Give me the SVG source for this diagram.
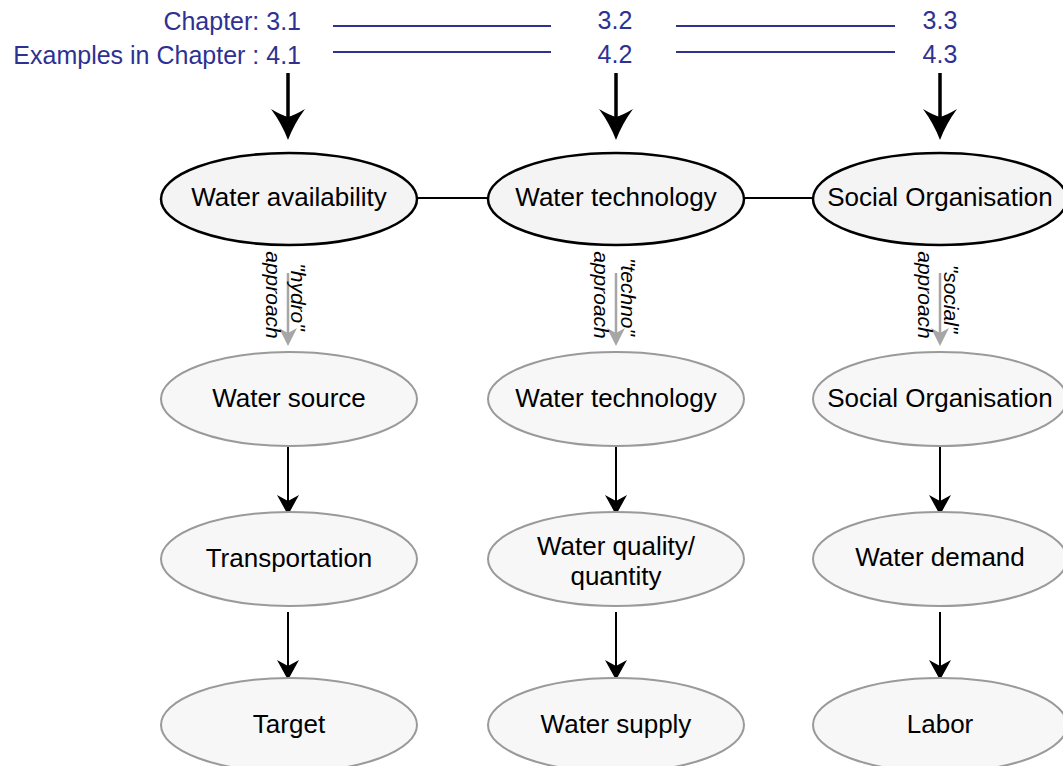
<svg xmlns="http://www.w3.org/2000/svg" width="1063" height="766" viewBox="0 0 1063 766">
<style>
.blue{font-family:"Liberation Sans",Arial,sans-serif;font-size:25px;fill:#2e3192}
.bline{stroke:#2e3192;stroke-width:2}
.lbl{font-family:"Liberation Sans",Arial,sans-serif;font-size:26px;fill:#000;text-anchor:middle}
.main{fill:#f4f4f4;stroke:#000;stroke-width:2.5}
.sub{fill:#f7f7f7;stroke:#9a9a9a;stroke-width:2}
.conn{stroke:#000;stroke-width:2;fill:none}
.big{stroke:#000;stroke-width:3.5;fill:none}
.gray{stroke:#a6a6a6;stroke-width:2.5;fill:none}
.appr{font-family:"Liberation Sans",Arial,sans-serif;font-size:21px;font-style:italic;fill:#000;text-anchor:middle}
</style>
<defs>
<marker id="bigHead" markerUnits="userSpaceOnUse" viewBox="-30 -20 40 40" refX="0" refY="0" markerWidth="40" markerHeight="40" orient="auto">
<path d="M8,0 Q-8,-6 -23,-17 Q-17,-7 -15,0 Q-17,7 -23,17 Q-8,6 8,0 Z" fill="#000"/>
</marker>
<marker id="smallHead" markerUnits="userSpaceOnUse" viewBox="-20 -14 30 28" refX="0" refY="0" markerWidth="30" markerHeight="28" orient="auto">
<path d="M6,0 L-14,-11 L-8,0 L-14,11 Z" fill="#000"/>
</marker>
<marker id="grayHead" markerUnits="userSpaceOnUse" viewBox="-18 -12 26 24" refX="0" refY="0" markerWidth="26" markerHeight="24" orient="auto">
<path d="M5,0 L-13,-9 L-8,0 L-13,9 Z" fill="#a6a6a6"/>
</marker>
</defs>

<g id="chapter-labels">
<text class="blue" x="301" y="30" text-anchor="end">Chapter: 3.1</text>
<text class="blue" x="301" y="64" text-anchor="end">Examples in Chapter : 4.1</text>
<text class="blue" x="615" y="29" text-anchor="middle">3.2</text>
<text class="blue" x="615" y="63" text-anchor="middle">4.2</text>
<text class="blue" x="940" y="29" text-anchor="middle">3.3</text>
<text class="blue" x="940" y="63" text-anchor="middle">4.3</text>
<line class="bline" x1="333" y1="26" x2="551" y2="26"/>
<line class="bline" x1="333" y1="52" x2="551" y2="52"/>
<line class="bline" x1="676" y1="26" x2="895" y2="26"/>
<line class="bline" x1="676" y1="52" x2="895" y2="52"/>
</g>

<g id="connectors">
<line class="big" x1="288" y1="73" x2="288" y2="132" marker-end="url(#bigHead)"/>
<line class="big" x1="616" y1="73" x2="616" y2="132" marker-end="url(#bigHead)"/>
<line class="big" x1="940" y1="73" x2="940" y2="132" marker-end="url(#bigHead)"/>
<line class="conn" x1="417" y1="198" x2="488" y2="198"/>
<line class="conn" x1="744" y1="198" x2="813" y2="198"/>
<line class="gray" x1="288" y1="273" x2="288" y2="341" marker-end="url(#grayHead)"/>
<line class="gray" x1="616" y1="273" x2="616" y2="341" marker-end="url(#grayHead)"/>
<line class="gray" x1="940" y1="273" x2="940" y2="341" marker-end="url(#grayHead)"/>
<line class="conn" x1="288" y1="447" x2="288" y2="509" marker-end="url(#smallHead)"/>
<line class="conn" x1="616" y1="447" x2="616" y2="509" marker-end="url(#smallHead)"/>
<line class="conn" x1="940" y1="447" x2="940" y2="509" marker-end="url(#smallHead)"/>
<line class="conn" x1="288" y1="612" x2="288" y2="674" marker-end="url(#smallHead)"/>
<line class="conn" x1="616" y1="612" x2="616" y2="674" marker-end="url(#smallHead)"/>
<line class="conn" x1="940" y1="612" x2="940" y2="674" marker-end="url(#smallHead)"/>
<text class="appr" transform="translate(266,295) rotate(90)">approach</text>
<text class="appr" transform="translate(291,297) rotate(90)">"hydro"</text>
<text class="appr" transform="translate(594,295) rotate(90)">approach</text>
<text class="appr" transform="translate(621,297) rotate(90)">"techno"</text>
<text class="appr" transform="translate(918,295) rotate(90)">approach</text>
<text class="appr" transform="translate(944,299) rotate(90)">"social"</text>
</g>

<g id="water-availability"><ellipse class="main" cx="289" cy="199" rx="128" ry="46"/><text class="lbl" x="289" y="206">Water availability</text></g>
<g id="water-technology-top"><ellipse class="main" cx="616" cy="199" rx="128" ry="46"/><text class="lbl" x="616" y="206">Water technology</text></g>
<g id="social-organisation-top"><ellipse class="main" cx="940" cy="199" rx="127" ry="46"/><text class="lbl" x="940" y="206">Social Organisation</text></g>

<g id="water-source"><ellipse class="sub" cx="289" cy="399" rx="128" ry="47"/><text class="lbl" x="289" y="407">Water source</text></g>
<g id="water-technology"><ellipse class="sub" cx="616" cy="399" rx="128" ry="47"/><text class="lbl" x="616" y="407">Water technology</text></g>
<g id="social-organisation"><ellipse class="sub" cx="940" cy="399" rx="127" ry="47"/><text class="lbl" x="940" y="407">Social Organisation</text></g>

<g id="transportation"><ellipse class="sub" cx="289" cy="559" rx="128" ry="47"/><text class="lbl" x="289" y="567">Transportation</text></g>
<g id="water-quality"><ellipse class="sub" cx="616" cy="559" rx="128" ry="47"/><text class="lbl" x="616" y="555">Water quality/</text><text class="lbl" x="616" y="585">quantity</text></g>
<g id="water-demand"><ellipse class="sub" cx="940" cy="559" rx="127" ry="47"/><text class="lbl" x="940" y="566">Water demand</text></g>

<g id="target"><ellipse class="sub" cx="289" cy="725" rx="128" ry="47"/><text class="lbl" x="289" y="733">Target</text></g>
<g id="water-supply"><ellipse class="sub" cx="616" cy="725" rx="128" ry="47"/><text class="lbl" x="616" y="733">Water supply</text></g>
<g id="labor"><ellipse class="sub" cx="940" cy="725" rx="127" ry="47"/><text class="lbl" x="940" y="733">Labor</text></g>
</svg>
